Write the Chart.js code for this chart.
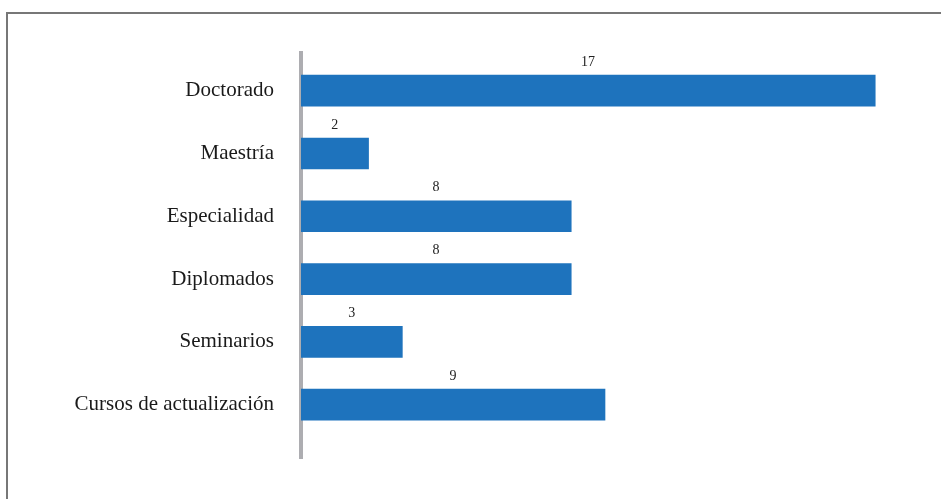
<!DOCTYPE html>
<html lang="es">
<head>
<meta charset="utf-8">
<script src="https://cdn.jsdelivr.net/npm/chart.js@4/dist/chart.umd.min.js"></script>
<style>
  html, body { margin: 0; padding: 0; background: #fff; overflow: hidden; }
  #marco {
    position: absolute; left: 6px; top: 12px;
    width: 1000px; height: 600px;
    border: 2px solid #777;
  }
  #caja { position: absolute; left: 0; top: 0; width: 941px; height: 499px; }
</style>
</head>
<body>
<div id="marco"></div>
<div id="caja"><canvas id="grafico"></canvas></div>
<script>
const categorias = ["Doctorado", "Maestría", "Especialidad", "Diplomados", "Seminarios", "Cursos de actualización"];
const valores = [17, 2, 8, 8, 3, 9];

const ctx = document.getElementById("grafico").getContext("2d");

// etiquetas con el valor encima de cada barra
const etiquetasValor = {
    id: "etiquetasValor",
    afterDatasetsDraw(chart) {
        const c = chart.ctx;
        const meta = chart.getDatasetMeta(0);
        c.save();
        c.font = "14px 'Liberation Serif', serif";
        c.fillStyle = "#222";
        c.textAlign = "center";
        c.textBaseline = "bottom";
        meta.data.forEach((barra, i) => {
            const cx = (barra.x + barra.base) / 2;
            c.fillText(valores[i], cx, barra.y - barra.height / 2 - 6);
        });
        c.restore();
    }
};

const puntos = valores.map((v, i) => ({ x: v, y: i }));

new Chart(ctx, {
    type: "bar",
    data: {
        datasets: [{
            data: puntos,
            backgroundColor: "#1e73bd",
            borderWidth: 0,
            barThickness: 31
        }]
    },
    options: {
        indexAxis: "y",
        responsive: true,
        maintainAspectRatio: false,
        animation: false,
        layout: { padding: { top: 53, bottom: 41, left: 0, right: 32 } },
        plugins: {
            legend: { display: false },
            tooltip: { enabled: false }
        },
        scales: {
            x: {
                type: "linear",
                min: 0,
                max: 18,
                display: false
            },
            y: {
                type: "linear",
                min: -0.6,
                max: 5.85,
                reverse: true,
                offset: false,
                z: 1,
                afterFit(scale) { scale.width = 301; },
                grid: { display: false, drawTicks: false, offset: false },
                border: { display: true, color: "#adadb1", width: 4 },
                ticks: {
                    stepSize: 1,
                    includeBounds: false,
                    autoSkip: false,
                    padding: 27,
                    color: "#1a1a1a",
                    font: { family: "'Liberation Serif', serif", size: 21 },
                    callback: (v) => (Number.isInteger(v) && categorias[v]) ? categorias[v] : ""
                }
            }
        }
    },
    plugins: [etiquetasValor]
});
</script>
</body>
</html>
